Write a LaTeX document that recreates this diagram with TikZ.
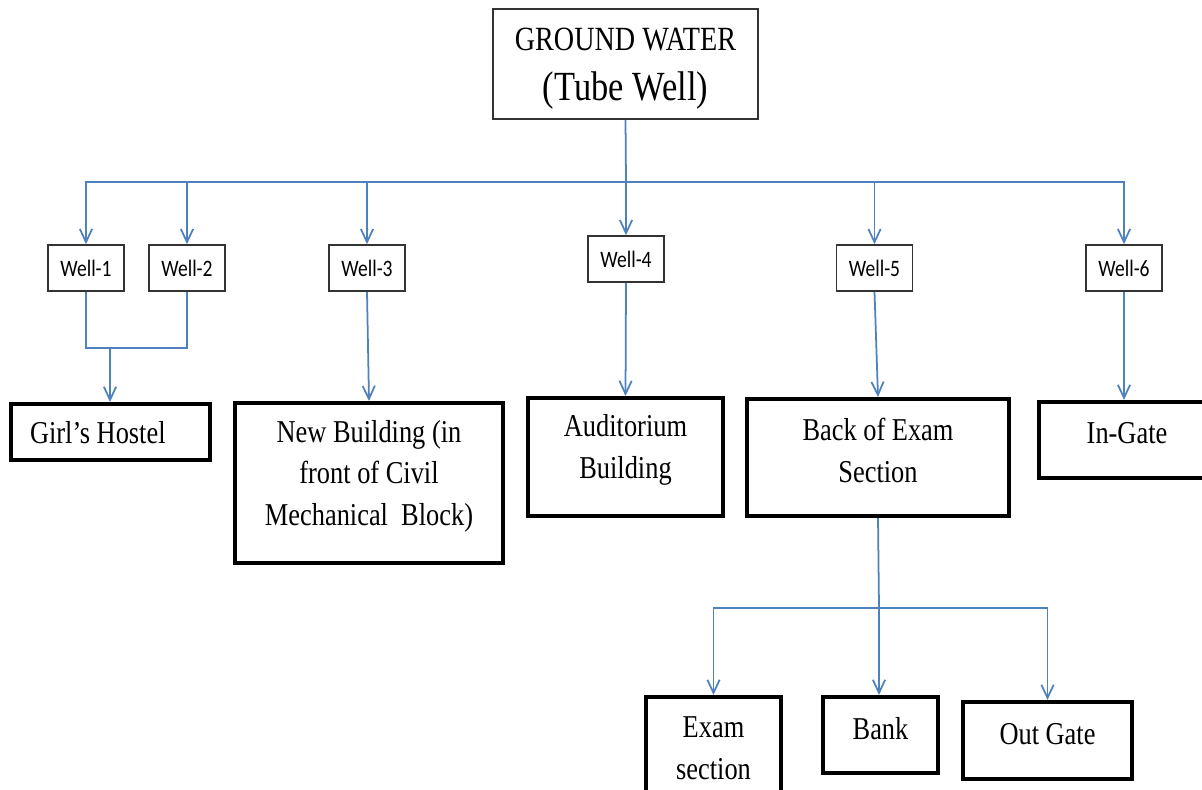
\documentclass[tikz,border=0pt]{standalone}
\usepackage{fontspec}
\setmainfont{Liberation Serif}[FakeStretch=0.83]
\newfontfamily\wellfont{Carlito}[FakeStretch=0.83]
\usetikzlibrary{arrows.meta}
\definecolor{linkblue}{RGB}{79,129,189}

\begin{document}
\begin{tikzpicture}[x=0.02cm, y=-0.02cm,
        wellbox/.style={draw=black!80, line width=0.9pt, minimum width=1.52cm, minimum height=0.92cm,
            font=\wellfont\fontsize{13.4}{16}\selectfont},
        placebox/.style={draw, line width=2.3pt, align=center, text depth=8pt,
            font=\fontsize{18.1}{23.8}\selectfont},
        flow/.style={draw=linkblue, line width=1pt},
        flowto/.style={flow, -{Straight Barb[length=7.5pt, width=7pt]}}]
            %\draw[lightgray] (0, 0) grid[step=50] (1202, 790);
            \useasboundingbox (0, 0) rectangle (1202, 790);
            \clip (0, 0) rectangle (1202, 790);

            \node[draw=black!80, line width=1pt, minimum width=5.3cm, minimum height=2.2cm, align=center,
                text depth=0pt, font=\fontsize{19.3}{28.5}\selectfont] (ground) at (625.5, 64)
                {GROUND WATER\\{\fontsize{23.6}{28.5}\selectfont (Tube Well)}};

            \node[wellbox](well1) at (86, 268) {Well-1};
            \node[wellbox](well2) at (187, 268) {Well-2};
            \node[wellbox](well3) at (367, 268) {Well-3};
            \node[wellbox](well4) at (626, 259) {Well-4};
            \node[wellbox](well5) at (874.5, 268) {Well-5};
            \node[wellbox](well6) at (1124, 268) {Well-6};

            \node[placebox, minimum height=1.12cm, text width=3.22cm, inner xsep=0.38cm, align=flush left,
                text depth=0pt](hostel) at (110.5, 432) {Girl's Hostel};
            \node[placebox, minimum width=5.36cm, minimum height=3.2cm, text depth=11.5pt](newbldg) at (369, 483)
                {New Building (in\\front of Civil\\Mechanical\ \ Block)};
            \node[placebox, minimum width=3.9cm, minimum height=2.36cm, text depth=12pt](audi) at (625.5, 457) {Auditorium\\Building};
            \node[placebox, minimum width=5.24cm, minimum height=2.34cm](backexam) at (878, 457.5) {Back of Exam\\Section};
            \node[placebox, minimum width=3.52cm, minimum height=1.52cm](ingate) at (1127, 440) {In-Gate};

            \node[placebox, minimum width=2.7cm, minimum height=2.16cm, text depth=3.5pt](examsec) at (713.5, 751) {Exam\\section};
            \node[placebox, minimum width=2.3cm, minimum height=1.52cm](bank) at (880.5, 735) {Bank};
            \node[placebox, minimum width=3.38cm, minimum height=1.54cm](outgate) at (1047.5, 740.5) {Out Gate};

            \coordinate (bus) at (626, 182);
            \coordinate (join) at (110, 348);
            \coordinate (split) at (879, 608);

            \draw[flow] (ground.south) -- (bus);
            \draw[flowto] (bus) -| (well1.north);
            \draw[flowto] (bus) -| (well2.north);
            \draw[flowto] (bus) -| (well3.north);
            \draw[flowto] (bus) -- (well4.north);
            \draw[flowto] (bus) -| (well5.north);
            \draw[flowto] (bus) -| (well6.north);

            \draw[flow] (well1.south) |- (join);
            \draw[flow] (well2.south) |- (join);
            \draw[flowto] (join) -- (join |- hostel.north);
            \draw[flowto] (well3.south) -- (newbldg.north);
            \draw[flowto] (well4.south) -- (audi.north);
            \draw[flowto] (well5.south) -- (backexam.north);
            \draw[flowto] (well6.south) -- (well6.south |- ingate.north);

            \draw[flow] (backexam.south) -- (split);
            \draw[flowto] (split) -| (examsec.north);
            \draw[flowto] (split) -- (split |- bank.north);
            \draw[flowto] (split) -| (outgate.north);
        \end{tikzpicture}
\end{document}
